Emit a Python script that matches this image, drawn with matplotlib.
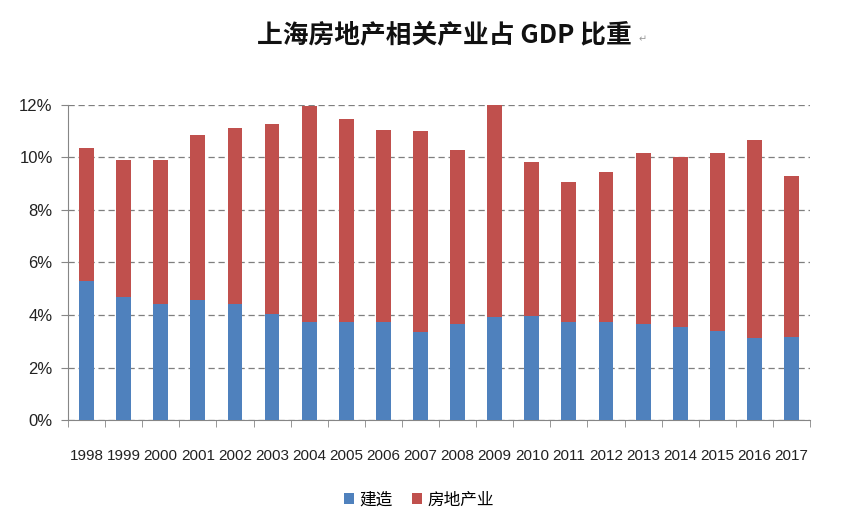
import matplotlib
matplotlib.use("Agg")
import matplotlib.pyplot as plt
import numpy as np
from matplotlib.ticker import FuncFormatter

plt.rcParams['font.family'] = ['Noto Sans CJK SC', 'DejaVu Sans']

# data (percent of GDP)
years = ['1998', '1999', '2000', '2001', '2002', '2003', '2004', '2005', '2006', '2007',
         '2008', '2009', '2010', '2011', '2012', '2013', '2014', '2015', '2016', '2017']
construction = [5.30, 4.69, 4.40, 4.57, 4.43, 4.02, 3.72, 3.72, 3.72, 3.34,
                3.64, 3.93, 3.96, 3.73, 3.73, 3.64, 3.55, 3.39, 3.13, 3.16]
real_estate = [5.04, 5.20, 5.49, 6.28, 6.67, 7.24, 8.23, 7.72, 7.30, 7.66,
               6.64, 8.08, 5.86, 5.33, 5.71, 6.52, 6.46, 6.77, 7.53, 6.13]
series_names = ['建造', '房地产业']

blue = '#4F81BD'
red = '#C0504D'
axis_gray = '#868686'

fig = plt.figure(figsize=(8.55, 5.18), dpi=100)
ax = fig.add_axes([0.0795, 0.189, 0.868, 0.609])

x = np.arange(len(years))
ax.bar(x, construction, width=0.4, color=blue, label=series_names[0], zorder=3)
ax.bar(x, real_estate, width=0.4, bottom=construction, color=red, label=series_names[1], zorder=3)

ax.set_xlim(-0.5, len(years) - 0.5)
ax.set_ylim(0, 12)
ax.set_yticks(np.arange(0, 13, 2))
ax.yaxis.set_major_formatter(FuncFormatter(lambda v, p: '%d%%' % v))
ax.yaxis.grid(True, linestyle=(0, (5, 3)), color='#7f7f7f', linewidth=0.9, zorder=0)

# category labels in the middle, tick marks on the boundaries
ax.set_xticks(x)
ax.set_xticklabels(years, family=['Liberation Sans', 'DejaVu Sans'], fontsize=11)
ax.tick_params(axis='x', which='major', length=0, pad=21, colors='#222222')
ax.set_xticks(np.arange(-0.5, len(years)), minor=True)
ax.tick_params(axis='x', which='minor', length=5, direction='out', color=axis_gray)
ax.tick_params(axis='y', length=5, direction='out', color=axis_gray, pad=6, labelsize=12, labelcolor='#222222')
for lbl in ax.get_yticklabels():
    lbl.set_family(['Liberation Sans', 'DejaVu Sans'])

for side in ['top', 'right']:
    ax.spines[side].set_visible(False)
ax.spines['left'].set_color(axis_gray)
ax.spines['bottom'].set_color(axis_gray)

fig.text(0.52, 0.932, '上海房地产相关产业占 GDP 比重', ha='center', va='center',
         fontsize=18.5, fontweight='bold', color='#111111')
fig.text(0.747, 0.925, '↵', ha='left', va='center', fontsize=7, color='#999999',
         family=['DejaVu Sans'])

fig.legend(loc='center', bbox_to_anchor=(0.49, 0.035), ncol=2, frameon=False,
           fontsize=12, handlelength=0.6, handleheight=0.6, handletextpad=0.3, columnspacing=1.2)

fig.savefig('out.png', dpi=100, facecolor='white')
